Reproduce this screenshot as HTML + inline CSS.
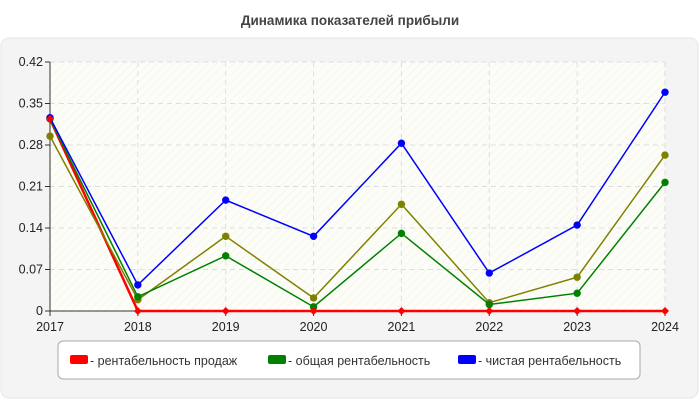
<!DOCTYPE html>
<html><head><meta charset="utf-8"><style>
body{margin:0;background:#fff;font-family:"Liberation Sans",sans-serif;}
svg text{font-family:"Liberation Sans",sans-serif;}
</style></head><body>
<svg width="700" height="400" xmlns="http://www.w3.org/2000/svg">
<defs><pattern id="hatch" width="6" height="6" patternUnits="userSpaceOnUse" patternTransform="rotate(45)"><rect width="6" height="6" fill="#fdfdf8"/><line x1="0" y1="0" x2="0" y2="6" stroke="#f0f0ea" stroke-width="1"/></pattern></defs>
<text x="350" y="25" text-anchor="middle" font-size="13.5" font-weight="bold" fill="#444">Динамика показателей прибыли</text>
<rect x="1" y="38" width="697" height="360" rx="8" fill="#f4f4f4" stroke="#e6e6e6"/>
<rect x="50" y="62" width="615" height="249" fill="url(#hatch)"/>
<g id="grid"></g><g id="axes"></g><g id="series"></g>
<g>
<rect x="58" y="341" width="582" height="38" rx="5" fill="#fff" stroke="#aaa"/>
<g><rect x="70" y="355" width="18" height="9" rx="2" fill="#f00"/><text x="90" y="365" font-size="12.5" fill="#333">- рентабельность продаж</text></g>
<g><rect x="268" y="355" width="18" height="9" rx="2" fill="#008000"/><text x="288" y="365" font-size="12.5" fill="#333">- общая рентабельность</text></g>
<g><rect x="458" y="355" width="18" height="9" rx="2" fill="#00f"/><text x="478" y="365" font-size="12.5" fill="#333">- чистая рентабельность</text></g>
</g>
</svg>
<script>
const years=["2017","2018","2019","2020","2021","2022","2023","2024"];
const yTicks=[0,0.07,0.14,0.21,0.28,0.35,0.42];
const yTickLabels=["0","0.07","0.14","0.21","0.28","0.35","0.42"];
const salesVals=[0.324,0,0,0,0,0,0,0];
const totalVals=[0.324,0.024,0.093,0.007,0.131,0.011,0.030,0.217];
const netVals=[0.326,0.044,0.187,0.126,0.283,0.064,0.145,0.369];
const otherVals=[0.295,0.019,0.126,0.022,0.180,0.014,0.057,0.263];
const NS="http://www.w3.org/2000/svg";
const X0=50,X1=665,Y0=311,Y1=62,YMAX=0.42;
const xs=i=>X0+(X1-X0)*i/(years.length-1);
const ys=v=>Y0-(Y0-Y1)*v/YMAX;
function mk(t,a,p){const e=document.createElementNS(NS,t);for(const k in a)e.setAttribute(k,a[k]);p.appendChild(e);return e;}
const grid=document.getElementById('grid'),axes=document.getElementById('axes'),ser=document.getElementById('series');
yTicks.forEach((v,i)=>{
 if(i>0){const g=mk('line',{x1:X0,x2:X1,y1:ys(v),y2:ys(v),stroke:'#ddd','stroke-dasharray':'5,4'},grid);
 
 }
 const tk=mk('line',{x1:X0-5,x2:X0,y1:ys(v),y2:ys(v),stroke:'#333'},axes);
 
 
 const t=mk('text',{x:X0-7,y:ys(v)+4,'text-anchor':'end','font-size':12.5,fill:'#222'},axes);t.textContent=yTickLabels[i];
 
 
});
years.forEach((y,i)=>{
 if(i>0){const g=mk('line',{x1:xs(i),x2:xs(i),y1:Y1,y2:Y0,stroke:'#ddd','stroke-dasharray':'5,4'},grid);
 
 }
 const tk=mk('line',{x1:xs(i),x2:xs(i),y1:Y0,y2:Y0+5,stroke:'#333'},axes);
 
 
 const t=mk('text',{x:xs(i),y:Y0+20,'text-anchor':'middle','font-size':12.5,fill:'#222'},axes);t.textContent=y;
 
 
});
const ax1=mk('line',{x1:X0,x2:X0,y1:Y1,y2:Y0,stroke:'#333'},axes);


const ax2=mk('line',{x1:X0,x2:X1,y1:Y0,y2:Y0,stroke:'#333'},axes);


function line(vals,color,name,w){
 const pts=vals.map((v,i)=>xs(i)+','+ys(v)).join(' ');
 const l=mk('polyline',{points:pts,fill:'none',stroke:color,'stroke-width':w},ser);
 
 
}
function points(vals,color,name,diamond){
 vals.forEach((v,i)=>{
  let p;
  if(diamond){const x=xs(i),y=ys(v);p=mk('polygon',{points:`${x},${y-4} ${x+4},${y} ${x},${y+4} ${x-4},${y}`,fill:color},ser);}
  else p=mk('circle',{cx:xs(i),cy:ys(v),r:3.7,fill:color},ser);
  
  
 });
}
line(salesVals,'#ff0000','sales-profitability',2.5);
line(otherVals,'#808000','other-profitability',1.5);points(otherVals,'#808000','other-profitability',false);
line(totalVals,'#008000','total-profitability',1.5);points(totalVals,'#008000','total-profitability',false);
line(netVals,'#0000ff','net-profitability',1.5);points(netVals,'#0000ff','net-profitability',false);
points(salesVals.slice(0),'#ff0000','sales-profitability',true);
</script>
</body></html>
